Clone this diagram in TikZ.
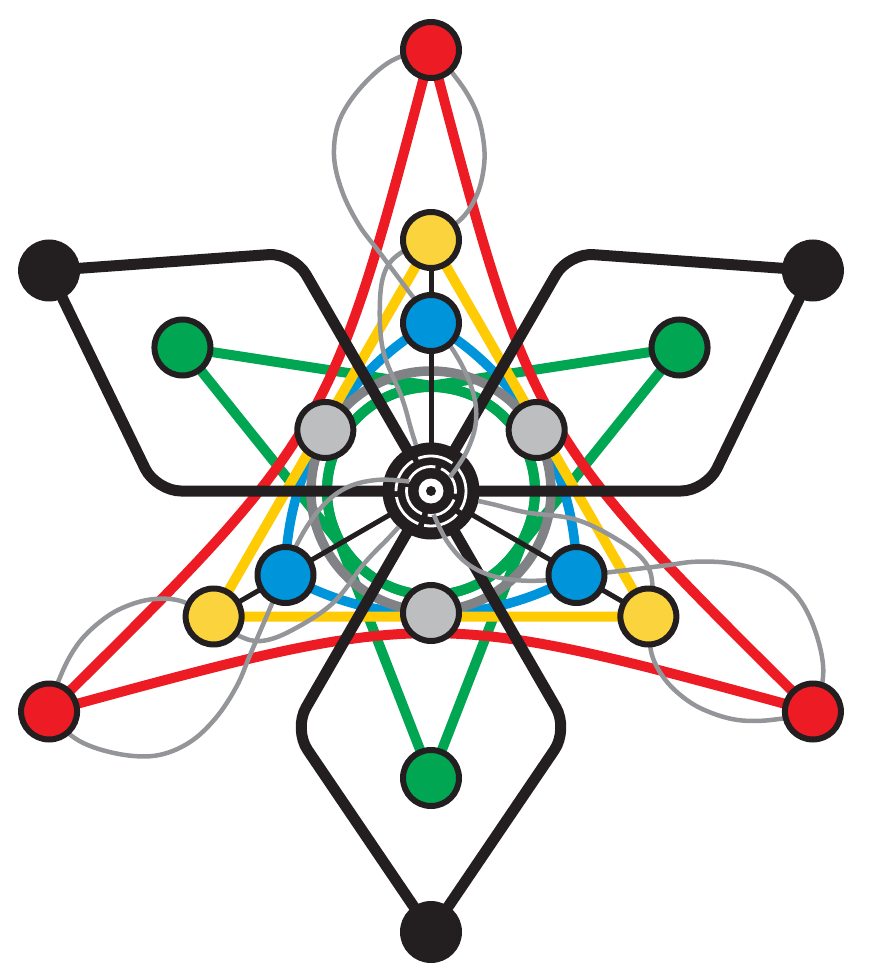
\documentclass[tikz,border=0pt]{standalone}
\definecolor{cred}{HTML}{ED1C24}
\definecolor{cyelnode}{HTML}{FBD33C}
\definecolor{cyelline}{HTML}{FFCB05}
\definecolor{cblue}{HTML}{0095DA}
\definecolor{cgreen}{HTML}{00A651}
\definecolor{cgraynode}{HTML}{BCBEC0}
\definecolor{cdgray}{HTML}{808285}
\definecolor{clgray}{HTML}{939598}
\definecolor{cblack}{HTML}{231F20}
\pgfdeclarelayer{lines}
\pgfdeclarelayer{hublayer}
\pgfdeclarelayer{loops}
\pgfsetlayers{lines,hublayer,loops,main}
\begin{document}
\begin{tikzpicture}[x=1pt,y=1pt,
  dot/.style={circle,inner sep=0pt,minimum size=56pt,line width=6pt,draw=cblack},
  rednode/.style={dot,fill=cred},
  yelnode/.style={dot,fill=cyelnode},
  bluenode/.style={dot,fill=cblue},
  greennode/.style={dot,fill=cgreen},
  graynode/.style={dot,fill=cgraynode},
  blacknode/.style={dot,fill=cblack},
  hubdisk/.style={circle,inner sep=0pt,minimum size=97pt,fill=cblack},
  redline/.style={draw=cred,line width=10pt},
  yelline/.style={draw=cyelline,line width=10pt,line join=round},
  blueline/.style={draw=cblue,line width=9.5pt,line join=round},
  greenline/.style={draw=cgreen,line width=10pt,line join=round},
  dgring/.style={draw=cdgray,line width=9.5pt},
  thickline/.style={draw=cblack,line width=11pt,rounded corners=25pt,line join=round},
  thinline/.style={draw=cblack,line width=5pt},
  loopline/.style={draw=clgray,line width=4.5pt},
  hubring/.style={draw=white,line width=2.8pt}]
\useasboundingbox (-431,-486) rectangle (437,491);
\coordinate (hub) at (0,0);
% nodes
\node[rednode] (r1) at (90:441) {};
\node[rednode] (r2) at (210:441) {};
\node[rednode] (r3) at (330:441) {};
\node[yelnode] (y1) at (90:251) {};
\node[yelnode] (y2) at (210:251) {};
\node[yelnode] (y3) at (330:251) {};
\node[bluenode] (b1) at (90:168) {};
\node[bluenode] (b2) at (210:168) {};
\node[bluenode] (b3) at (330:168) {};
\node[graynode] (k1) at (150:122) {};
\node[graynode] (k2) at (30:122) {};
\node[graynode] (k3) at (270:122) {};
\node[greennode] (g1) at (150:287) {};
\node[greennode] (g2) at (30:287) {};
\node[greennode] (g3) at (270:287) {};
\node[blacknode] (n1) at (150:441) {};
\node[blacknode] (n2) at (30:441) {};
\node[blacknode] (n3) at (270:441) {};
\begin{pgfonlayer}{lines}
  % green teardrops
  \foreach \a/\g in {150/g1,30/g2,270/g3}{
    \draw[greenline] (\g.center) -- ({\a-68.75}:104)
      arc[start angle={\a-68.75},end angle={\a+68.75-360},radius=104] -- cycle;
  }
  % blue Reuleaux triangle
  \draw[blueline] (b1.center) arc[start angle=120,end angle=180,radius=291]
     arc[start angle=240,end angle=300,radius=291]
     arc[start angle=0,end angle=60,radius=291] -- cycle;
  % dark gray ring
  \draw[dgring] (hub) circle[radius=120];
  % red curved triangle
  \draw[redline] (r1.center) .. controls (150:116) and (150:116) .. (r2.center);
  \draw[redline] (r2.center) .. controls (270:116) and (270:116) .. (r3.center);
  \draw[redline] (r3.center) .. controls (30:116) and (30:116) .. (r1.center);
  % yellow triangle
  \draw[yelline] (y1.center) -- (y2.center) -- (y3.center) -- cycle;
  % black kites
  \foreach \r/\n in {0/n3,120/n2,240/n1}{
    \begin{scope}[rotate=\r]
      \draw[thickline] (hub) -- (-120:275) -- (\n.center) -- (-60:275) -- cycle;
    \end{scope}
  }
  % thin spokes
  \draw[thinline] (hub) -- (b1.center) -- (y1.center);
  \draw[thinline] (hub) -- (b2.center) -- (y2.center);
  \draw[thinline] (hub) -- (b3.center) -- (y3.center);
\end{pgfonlayer}
\begin{pgfonlayer}{hublayer}
  \node[hubdisk] (hubn) at (hub) {};
  \draw[hubring,dash pattern=on 36pt off 6pt,dash phase=10pt] (hubn.center) circle[radius=35];
  \draw[hubring,dash pattern=on 33pt off 6pt,dash phase=5pt] (hubn.center) circle[radius=24.5];
  \fill[white] (hubn.center) circle[radius=12.5];
  \fill[cblack] (hubn.center) circle[radius=5];
\end{pgfonlayer}
\begin{pgfonlayer}{loops}
  \foreach \r in {0,120,240}{
    \begin{scope}[rotate=\r]
      \draw[loopline] plot[smooth,tension=0.6] coordinates {
        (19,14) (36,40) (45,70) (41,102) (22,141) (-18,194) (-51,238)
        (-72,266) (-89,300) (-97,336) (-91,372) (-68,406) (-36,432) (0,438)
        (26,412) (45,380) (53,346) (52,318) (44,292) (28,270) (0,254) (-29,239)
        (-45,222) (-51,191) (-48,141) (-29,93) (-20,62) (-15,46)};
    \end{scope}
  }
\end{pgfonlayer}
\end{tikzpicture}
\end{document}
